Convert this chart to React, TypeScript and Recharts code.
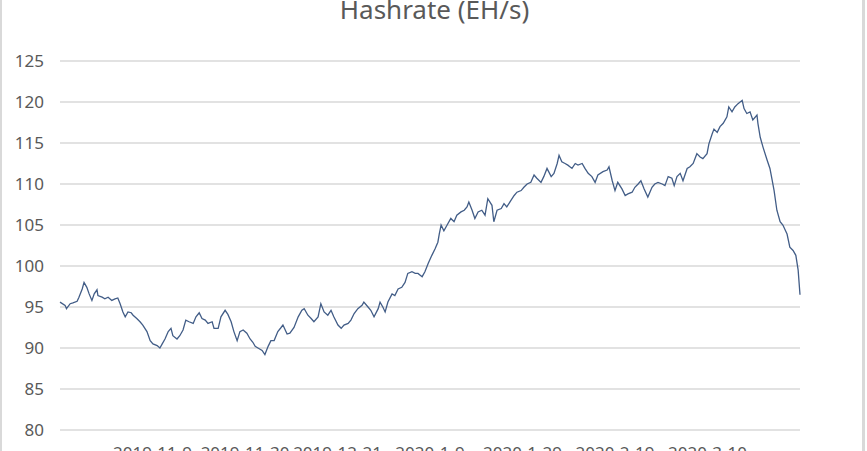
import { LineChart, Line, XAxis, YAxis, CartesianGrid } from 'recharts';

// x position of each reading, in steps (20 steps between date labels)
const steps = [
  0, 1.1, 1.4, 2.2, 2.8, 3.7, 4.1, 4.8, 5.2, 5.8, 6.3, 6.9, 7.4, 8.0, 8.2, 9.1, 9.7, 10.4, 11.2, 11.9,
  12.5, 13.0, 13.6, 14.1, 14.7, 15.4, 15.8, 16.6, 17.3, 17.9, 18.8, 19.5, 20.1, 21.0, 21.6, 22.1, 22.7, 23.4, 24.0, 24.4,
  25.3, 25.9, 26.6, 27.2, 27.9, 28.8, 29.4, 30.1, 30.7, 31.4, 32.0, 32.9, 33.3, 34.2, 34.8, 35.7, 36.3, 37.0, 37.6, 38.3,
  38.9, 39.6, 40.4, 41.1, 41.7,
  42.2, 42.8, 43.7, 44.3, 45.0, 45.6, 46.3, 47.1, 47.8, 48.2, 49.1, 49.7, 50.6, 51.5, 52.3, 52.8, 53.6, 54.3, 54.9, 55.8,
  56.4, 57.1, 57.9, 58.6, 59.2, 60.1, 60.8, 61.4, 62.3, 62.9, 63.6, 64.4, 65.3, 65.7, 66.6, 67.2, 67.9, 68.8, 69.2, 69.8,
  70.3, 70.9, 71.8, 72.4, 73.1, 73.9, 74.6, 75.2, 76.1, 76.8, 77.4, 78.3, 78.9, 79.6, 80.4, 81.1, 81.7,
  82.0, 82.4, 83.0, 83.7, 84.5, 85.2, 85.8, 86.7, 87.4, 88.0, 88.4, 89.1, 89.7, 90.4, 91.2, 91.9, 92.5, 93.4, 93.8, 94.5,
  95.4, 96.0, 96.6, 97.5, 98.2, 98.8, 99.7, 100.3, 101.0, 101.8, 102.5, 103.1, 104.0, 104.6, 105.3, 106.2, 106.8, 107.5, 107.9, 108.5,
  109.2, 109.8, 110.7, 111.4, 112.0, 112.9, 113.5, 114.2, 115.0, 115.7, 116.3,
  117.4, 118.3, 118.7, 119.4, 120.0, 120.6, 121.5, 122.2, 122.8, 123.7, 124.3, 125.0, 125.6, 126.3, 127.1, 128.0, 128.6, 129.3, 130.2, 130.8,
  131.5, 132.3, 132.8, 133.4, 134.1, 134.7, 135.6, 136.2, 136.9, 137.7, 138.4, 139.0, 139.9, 140.3, 141.0, 141.4, 142.1, 142.7, 143.4, 144.2,
  144.6, 145.3, 145.9, 146.6, 147.5, 147.9, 148.5, 149.2, 149.8, 150.7, 150.9, 151.4, 152.0, 152.9, 153.5, 154.0, 154.4, 155.0, 155.7, 156.3,
  157.2, 157.8, 158.5, 159.1, 159.6, 160,
];

const hashrate = [
  95.6, 95.2, 94.8, 95.4, 95.5, 95.7, 96.2, 97.2, 98.0, 97.4, 96.6, 95.8, 96.6, 97.1, 96.4, 96.2, 96.0, 96.2, 95.8, 96.0,
  96.1, 95.4, 94.4, 93.8, 94.4, 94.3, 94.0, 93.6, 93.2, 92.8, 92.0, 90.9, 90.5, 90.3, 90.0, 90.5, 91.1, 92.0, 92.4, 91.5,
  91.1, 91.5, 92.2, 93.4, 93.2, 93.0, 93.8, 94.3, 93.6, 93.4, 93.0, 93.2, 92.4, 92.4, 93.8, 94.6, 94.1, 93.2, 92.0, 90.9,
  92.0, 92.2, 91.8, 91.1, 90.7,
  90.2, 90.0, 89.7, 89.2, 90.2, 90.9, 90.9, 92.0, 92.5, 92.8, 91.7, 91.8, 92.5, 93.8, 94.6, 94.8, 94.0, 93.6, 93.2, 93.8,
  95.4, 94.4, 94.0, 94.6, 93.8, 92.8, 92.4, 92.8, 93.0, 93.4, 94.2, 94.8, 95.2, 95.6, 95.0, 94.6, 93.8, 94.8, 95.6, 95.0,
  94.4, 95.6, 96.6, 96.4, 97.2, 97.4, 98.0, 99.1, 99.3, 99.1, 99.1, 98.7, 99.3, 100.3, 101.3, 102.1, 102.9,
  103.9, 105.0, 104.3, 105.0, 105.8, 105.4, 106.2, 106.6, 106.8, 107.2, 107.8, 106.8, 105.8, 106.6, 106.8, 106.2, 108.2, 107.4, 105.4, 106.8,
  107.0, 107.6, 107.2, 108.0, 108.6, 109.0, 109.2, 109.6, 110.0, 110.2, 111.1, 110.7, 110.2, 110.9, 111.9, 110.9, 111.3, 112.5, 113.5, 112.7,
  112.5, 112.3, 111.9, 112.5, 112.3, 112.5, 111.9, 111.3, 110.9, 110.2, 111.1,
  111.5, 111.7, 112.1, 110.4, 109.2, 110.2, 109.4, 108.6, 108.8, 109.0, 109.6, 110.0, 110.4, 109.4, 108.4, 109.6, 110.0, 110.2, 110.0, 109.8,
  110.9, 110.7, 109.8, 110.9, 111.3, 110.4, 111.9, 112.1, 112.5, 113.7, 113.3, 113.1, 113.7, 114.9, 116.1, 116.7, 116.3, 117.0, 117.4, 118.2,
  119.4, 118.8, 119.4, 119.8, 120.2, 119.2, 118.6, 118.8, 117.8, 118.4, 117.4, 115.7, 114.5, 112.9, 111.9, 110.4, 109.2, 106.8, 105.4, 105.0,
  103.9, 102.3, 101.9, 101.3, 99.5, 96.5,
];

const tickSteps = [20, 40, 60, 80, 100, 120, 140];
const tickLabels = ['2019-11-9', '2019-11-30', '2019-12-21', '2020-1-9', '2020-1-29', '2020-2-19', '2020-3-10'];
const yTicks = [80, 85, 90, 95, 100, 105, 110, 115, 120, 125];

const data = steps.map((s, i) => ({ step: s, value: hashrate[i] }));

const tickStyle = { fill: '#595959', fontSize: 17, fontFamily: 'Noto Sans' };

export default function App() {
  return (
    <div style={{ position: 'fixed', left: 0, top: 0, width: 867, height: 451, overflow: 'hidden', background: '#fff' }}>
      <div style={{ position: 'absolute', left: 0, top: 0, width: 2, height: 451, background: '#d9d9d9' }} />
      <div style={{ position: 'absolute', left: 862, top: 0, width: 3, height: 451, background: '#d9d9d9' }} />
      <div
        style={{
          position: 'absolute',
          left: 0,
          width: 867,
          top: -8,
          textAlign: 'center',
          paddingLeft: 1,
          fontFamily: 'Noto Sans',
          fontSize: 26,
          color: '#595959',
          lineHeight: '34px',
        }}
      >
        Hashrate (EH/s)
      </div>
      <div style={{ position: 'absolute', left: 0, top: 0 }}>
        <LineChart width={867} height={480} data={data} margin={{ top: 61, right: 67, left: 0, bottom: 20 }}>
          <CartesianGrid vertical={false} stroke="#d9d9d9" strokeWidth={1.5} />
          <XAxis
            dataKey="step"
            type="number"
            domain={[0, 160]}
            ticks={tickSteps}
            tickFormatter={(v: number) => tickLabels[tickSteps.indexOf(v)] ?? ''}
            axisLine={false}
            tickLine={false}
            tickMargin={11}
            tick={tickStyle}
            interval={0}
            height={30}
          />
          <YAxis
            type="number"
            domain={[80, 125]}
            ticks={yTicks}
            axisLine={false}
            tickLine={false}
            tickMargin={10}
            tick={tickStyle}
            width={60}
            interval={0}
          />
          <Line
            type="linear"
            dataKey="value"
            stroke="#425d87"
            strokeWidth={1.3}
            dot={false}
            isAnimationActive={false}
          />
        </LineChart>
      </div>
    </div>
  );
}
